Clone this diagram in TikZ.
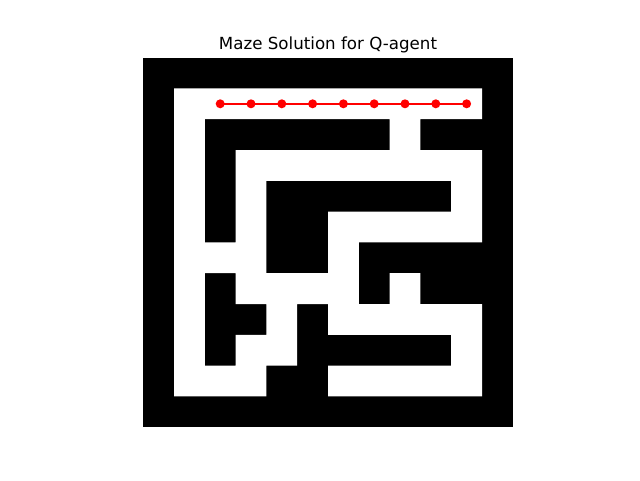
\documentclass[tikz,border=0pt]{standalone}
\usepackage{fontspec}
\setmainfont{DejaVu Sans}
\begin{document}
\begin{tikzpicture}[x=1pt,y=-1pt,
  pathdot/.style={circle,fill=red,inner sep=0pt,minimum size=9pt},
  pathline/.style={red,line width=2.1pt}]
\useasboundingbox (0,0) rectangle (640,480);
\fill[white] (0,0) rectangle (640,480);
% maze walls
\fill[black] (143.2,57.6) rectangle (512.8,427.2);
% open cells (row/first col/last col)
\fill[white] \foreach \r/\a/\b in {1/1/10, 2/1/1, 2/8/8, 3/1/1, 3/3/10, 4/1/1, 4/3/3, 4/10/10, 5/1/1, 5/3/3, 5/6/10, 6/1/3, 6/6/6, 7/1/1, 7/3/6, 7/8/8, 8/1/1, 8/4/4, 8/6/10, 9/1/1, 9/3/4, 9/10/10, 10/1/3, 10/6/10}
  { ({143.2+\a*30.8},{57.6+\r*30.8}) rectangle ({143.2+(\b+1)*30.8},{57.6+(\r+1)*30.8}) };
% title
\node[anchor=base,font=\fontsize{16.67}{20}\selectfont,inner sep=0pt] (title) at (328,49.3) {Maze Solution for Q-agent};
% solution path
\foreach \c in {2,...,10}
  \node[pathdot] (p\c) at ({143.2+(\c+0.5)*30.8},103.8) {};
\draw[pathline] (p2.center) -- (p3.center) -- (p4.center) -- (p5.center) -- (p6.center) -- (p7.center) -- (p8.center) -- (p9.center) -- (p10.center);
\end{tikzpicture}
\end{document}
